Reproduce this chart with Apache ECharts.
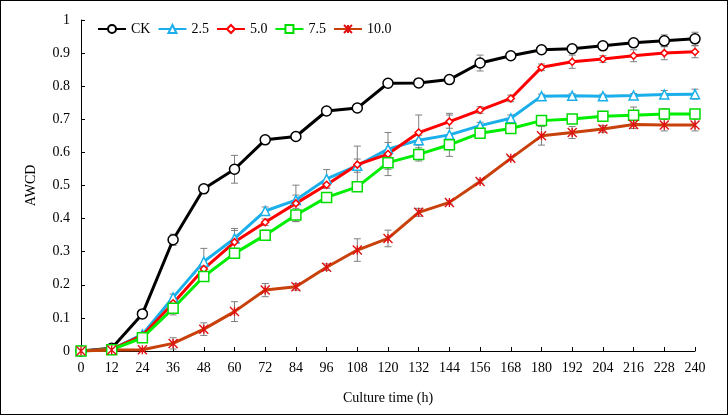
<!DOCTYPE html>
<html>
<head>
<meta charset="utf-8">
<script src="https://cdn.jsdelivr.net/npm/echarts@6/dist/echarts.min.js"></script>
<style>
html,body{margin:0;padding:0;background:#fff;}
#wrap{width:728px;height:415px;box-sizing:border-box;border:1px solid #000;position:relative;}
#chart{position:absolute;left:-1px;top:-1px;width:728px;height:415px;}
</style>
</head>
<body>
<div id="wrap"><div id="chart"></div></div>
<script>
const hours = [0,12,24,36,48,60,72,84,96,108,120,132,144,156,168,180,192,204,216,228,240];
const seriesNames = ['CK','2.5','5.0','7.5','10.0'];
const valCK  = [0,0.008,0.112,0.336,0.490,0.549,0.638,0.648,0.725,0.734,0.809,0.810,0.820,0.870,0.892,0.910,0.913,0.922,0.931,0.937,0.943];
const val25  = [0,0.005,0.050,0.162,0.270,0.340,0.423,0.456,0.520,0.560,0.610,0.637,0.653,0.681,0.703,0.770,0.771,0.770,0.772,0.775,0.776];
const val50  = [0,0.005,0.047,0.144,0.248,0.329,0.389,0.446,0.502,0.563,0.595,0.660,0.693,0.728,0.763,0.857,0.874,0.882,0.892,0.900,0.904];
const val75  = [0,0.004,0.040,0.129,0.225,0.295,0.350,0.411,0.464,0.496,0.569,0.594,0.623,0.658,0.672,0.696,0.701,0.709,0.712,0.716,0.716];
const val100 = [0,0.003,0.004,0.023,0.066,0.119,0.184,0.194,0.253,0.305,0.340,0.419,0.449,0.512,0.582,0.650,0.660,0.671,0.684,0.683,0.683];
const errCK  = [0,0.003,0.006,0.017,0.006,0.042,0.010,0.010,0.006,0.007,0.008,0.008,0.010,0.024,0.005,0.005,0.005,0.005,0.008,0.018,0.020];
const err25  = [0,0.002,0.005,0.010,0.040,0.030,0.012,0.015,0.028,0.020,0.020,0.015,0.065,0.010,0.010,0.006,0.006,0.006,0.006,0.012,0.015];
const err50  = [0,0.002,0.005,0.010,0.010,0.035,0.010,0.055,0.010,0.056,0.065,0.053,0.020,0.010,0.010,0.010,0.020,0.010,0.018,0.020,0.018];
const err75  = [0,0.002,0.005,0.020,0.010,0.010,0.015,0.020,0.012,0.010,0.020,0.020,0.015,0.012,0.010,0.012,0.008,0.015,0.025,0.016,0.012];
const err100 = [0,0.002,0.003,0.017,0.019,0.030,0.020,0.010,0.010,0.034,0.025,0.012,0.005,0.005,0.005,0.028,0.018,0.010,0.012,0.018,0.018];
const yTicks = [0,0.1,0.2,0.3,0.4,0.5,0.6,0.7,0.8,0.9,1];

const FONT = '"Liberation Serif","Times New Roman",serif';
const values = [valCK,val25,val50,val75,val100];
const errors = [errCK,err25,err50,err75,err100];
const lineColors = ['#000000','#1AAFEA','#FF0000','#00EE00','#C8400A'];
const markColors = ['#000000','#1AAFEA','#FF0000','#00DD00','#E01010'];
const symbols = ['circle','triangle','diamond','rect','path://M0,0L10,10M10,0L0,10M5,0L5,10'];
const symSizes = [10,9,7,10,9];

const chart = echarts.init(document.getElementById('chart'), null, {renderer:'canvas'});
const series = [];
seriesNames.forEach((name,i)=>{
  series.push({
    name: name, type:'line', z: 3,
    data: hours.map((h,k)=>[h, values[i][k]]),
    symbol: symbols[i], symbolSize: symSizes[i], showAllSymbol:true,
    lineStyle:{color:lineColors[i], width:3},
    itemStyle:{color:'#ffffff', borderColor:markColors[i], borderWidth: i===4?1.4:1.5},
    emphasis:{disabled:true}, animation:false
  });
});
seriesNames.forEach((name,i)=>{
  series.push({
    type:'custom', z: 2, silent:true, animation:false,
    data: hours.map((h,k)=>[h, values[i][k]-errors[i][k], values[i][k]+errors[i][k]]),
    renderItem: function(params, api){
      const lo = api.coord([api.value(0), api.value(1)]);
      const hi = api.coord([api.value(0), api.value(2)]);
      const cw = 3.5;
      const st = {stroke:'#7f7f7f', lineWidth:1};
      return {type:'group', children:[
        {type:'line', shape:{x1:lo[0],y1:lo[1],x2:hi[0],y2:hi[1]}, style:st},
        {type:'line', shape:{x1:lo[0]-cw,y1:lo[1],x2:lo[0]+cw,y2:lo[1]}, style:st},
        {type:'line', shape:{x1:hi[0]-cw,y1:hi[1],x2:hi[0]+cw,y2:hi[1]}, style:st}
      ]};
    }
  });
});

chart.setOption({
  animation:false,
  backgroundColor:'transparent',
  textStyle:{fontFamily:FONT},
  grid:{left:81, right:33, top:20, bottom:64},
  legend:{
    data: seriesNames, left:97, top:22, itemWidth:28, itemHeight:10, itemGap:7,
    textStyle:{fontFamily:FONT, fontSize:14, color:'#000'}, padding:0
  },
  xAxis:{
    type:'value', min:0, max:240, interval:12,
    name:'Culture time (h)', nameLocation:'middle', nameGap:40,
    nameTextStyle:{fontFamily:FONT, fontSize:14, color:'#000'},
    axisLine:{lineStyle:{color:'#000', width:1}},
    axisTick:{inside:true, length:4, lineStyle:{color:'#000'}},
    axisLabel:{fontFamily:FONT, fontSize:14, color:'#000', margin:10},
    splitLine:{show:false}
  },
  yAxis:{
    type:'value', min:0, max:1, interval:0.1,
    name:'AWCD', nameLocation:'middle', nameGap:43, nameRotate:90,
    nameTextStyle:{fontFamily:FONT, fontSize:14, color:'#000'},
    axisLine:{show:true, lineStyle:{color:'#000', width:1}},
    axisTick:{show:true, inside:true, length:4, lineStyle:{color:'#000'}},
    axisLabel:{fontFamily:FONT, fontSize:14, color:'#000', margin:11,
      formatter: v => { const t = yTicks.find(x=>Math.abs(x-v)<1e-6); return String(t!==undefined?t:v); }},
    splitLine:{show:false}
  },
  series: series
});
</script>
</body>
</html>
